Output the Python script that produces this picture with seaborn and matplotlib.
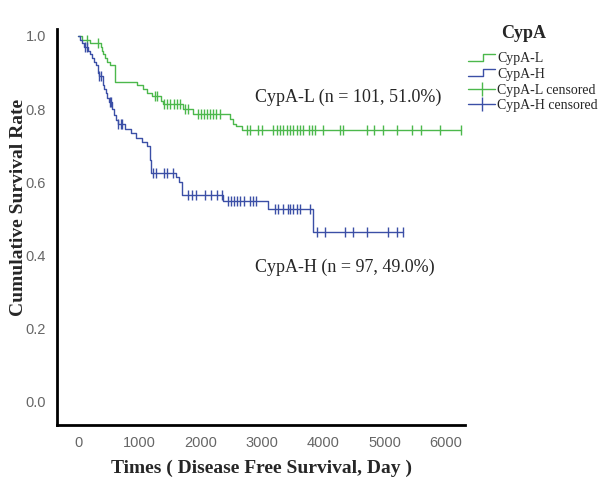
import matplotlib
matplotlib.use('Agg')
import matplotlib.pyplot as plt
import seaborn as sns
import numpy as np
from matplotlib.lines import Line2D
from matplotlib.legend_handler import HandlerBase

# --- data (Kaplan-Meier step curves) ---
green_t = [0, 60, 200, 370, 390, 410, 440, 470, 520, 600, 960, 1060, 1130, 1200,
           1350, 1390, 1710, 1880, 2480, 2530, 2580, 2680, 6250]
green_s = [1.0, 0.99, 0.98, 0.97, 0.96, 0.95, 0.94, 0.93, 0.92, 0.874, 0.865, 0.855,
           0.845, 0.835, 0.823, 0.813, 0.80, 0.787, 0.773, 0.76, 0.753, 0.743, 0.743]
green_cens = [140, 330, 1250, 1290, 1400, 1450, 1500, 1560, 1620, 1660, 1750, 1800,
              1950, 2000, 2050, 2100, 2150, 2200, 2250, 2320, 2750, 2805, 2940, 2995,
              3185, 3240, 3295, 3350, 3405, 3460, 3510, 3570, 3620, 3670, 3760, 3810,
              3870, 4000, 4275, 4330, 4710, 4820, 4980, 5200, 5450, 5600, 5900, 6250]

blue_t = [0, 30, 60, 100, 160, 200, 230, 260, 290, 320, 340, 400, 430, 460, 480, 510,
          560, 590, 620, 650, 760, 860, 950, 1050, 1130, 1170, 1190, 1600, 1650, 1700,
          2370, 3100, 3830, 5300]
blue_s = [1.0, 0.99, 0.98, 0.97, 0.96, 0.95, 0.94, 0.93, 0.92, 0.90, 0.89, 0.865, 0.855,
          0.845, 0.83, 0.82, 0.80, 0.785, 0.77, 0.76, 0.745, 0.735, 0.72, 0.71, 0.70,
          0.66, 0.625, 0.615, 0.60, 0.565, 0.548, 0.526, 0.463, 0.463]
blue_cens = [120, 145, 350, 375, 520, 545, 660, 700, 720, 1230, 1280, 1400, 1450, 1550,
             1800, 1860, 1920, 2070, 2170, 2270, 2350, 2450, 2500, 2540, 2590, 2650,
             2710, 2800, 2850, 2900, 3210, 3260, 3340, 3430, 3460, 3510, 3570, 3620,
             3780, 3900, 4030, 4360, 4490, 4720, 5060, 5200, 5300]

labels = ["CypA-L", "CypA-H", "CypA-L censored", "CypA-H censored"]
GREEN = "#4cb84c"
BLUE = "#3b4fa6"


def level_at(times, surv, pts):
    idx = np.searchsorted(times, pts, side='right') - 1
    return np.asarray(surv)[idx]


class StepHandler(HandlerBase):
    def create_artists(self, legend, orig, xd, yd, w, h, fontsize, trans):
        x = [xd, xd + w * 0.55, xd + w * 0.55, xd + w]
        y = [yd + h * 0.15, yd + h * 0.15, yd + h * 0.85, yd + h * 0.85]
        ln = Line2D(x, y, color=orig.get_color(), lw=1, transform=trans)
        return [ln]


sns.set_style("white")
plt.rcParams['font.family'] = ['Liberation Serif', 'DejaVu Serif']

fig = plt.figure(figsize=(6.09, 4.95), dpi=100)
ax = fig.add_axes([0.0936, 0.1414, 0.67, 0.80])

sns.lineplot(x=green_t, y=green_s, drawstyle='steps-post', color=GREEN, lw=1, ax=ax)
sns.lineplot(x=blue_t, y=blue_s, drawstyle='steps-post', color=BLUE, lw=1, ax=ax)
sns.scatterplot(x=green_cens, y=level_at(green_t, green_s, green_cens), marker='|',
                s=45, color=GREEN, linewidth=1, ax=ax)
sns.scatterplot(x=blue_cens, y=level_at(blue_t, blue_s, blue_cens), marker='|',
                s=45, color=BLUE, linewidth=1, ax=ax)

ax.set_xlim(-343, 6313)
ax.set_ylim(-0.063, 1.019)
ax.set_xticks([0, 1000, 2000, 3000, 4000, 5000, 6000])
ax.set_yticks([0.0, 0.2, 0.4, 0.6, 0.8, 1.0])
ax.set_yticklabels(["0.0", "0.2", "0.4", "0.6", "0.8", "1.0"])
for s in ['top', 'right']:
    ax.spines[s].set_visible(False)
for s in ['left', 'bottom']:
    ax.spines[s].set_linewidth(2)
    ax.spines[s].set_color('black')
ax.tick_params(axis='both', direction='out', length=5, width=1, color='#333333',
               labelcolor='#666666', labelsize=10.5, pad=3)
for lab in ax.get_xticklabels() + ax.get_yticklabels():
    lab.set_family(['Liberation Sans', 'DejaVu Sans'])

ax.set_xlabel("Times ( Disease Free Survival, Day )", fontsize=14, fontweight='bold', labelpad=7)
ax.set_ylabel("Cumulative Survival Rate", fontsize=14, fontweight='bold')
ax.yaxis.set_label_coords(-0.074, 0.55)

ax.text(2890, 0.833, "CypA-L (n = 101, 51.0%)", fontsize=13, va='center', ha='left')
ax.text(2890, 0.367, "CypA-H (n = 97, 49.0%)", fontsize=13, va='center', ha='left')

handles = [
    Line2D([], [], color=GREEN, lw=1),
    Line2D([], [], color=BLUE, lw=1),
    Line2D([], [], color=GREEN, lw=1, marker='|', markersize=10),
    Line2D([], [], color=BLUE, lw=1, marker='|', markersize=10),
]
hmap = {handles[0]: StepHandler(), handles[1]: StepHandler()}
leg = fig.legend(handles, labels, handler_map=hmap, loc='upper left',
                 bbox_to_anchor=(0.768, 0.895), frameon=False,
                 fontsize=10, handlelength=2.0, handletextpad=0.12, labelspacing=0.2,
                 borderaxespad=0, borderpad=0)
fig.text(0.859, 0.933, "CypA", fontsize=13, fontweight='bold', ha='center', va='center')

fig.savefig("out.png", dpi=100)
